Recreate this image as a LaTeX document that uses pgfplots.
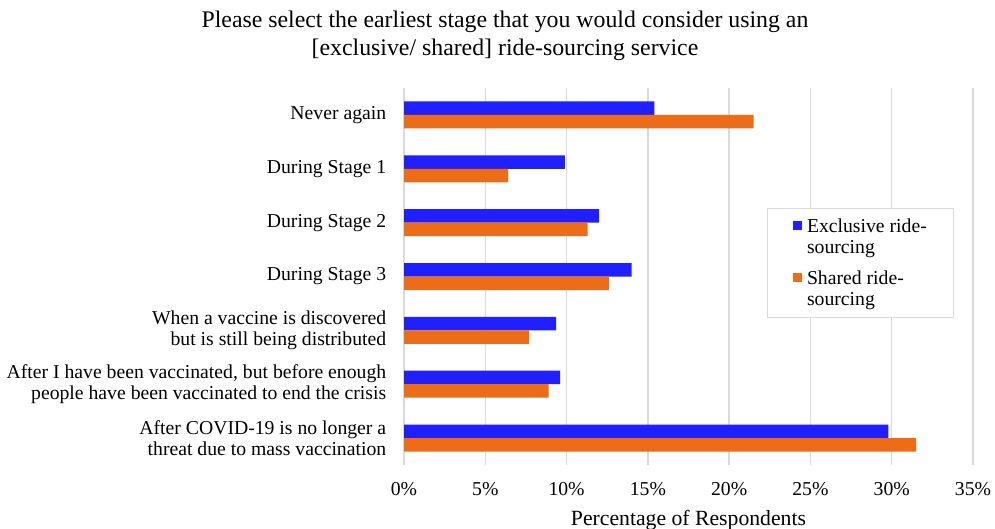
\documentclass[border=0pt]{standalone}
\usepackage{pgfplots}
\pgfplotsset{compat=1.18}
\usepackage{fontspec}
\setmainfont{Liberation Serif}
\definecolor{exclblue}{HTML}{1F1FFF}
\definecolor{sharedorange}{HTML}{EC6C17}
\definecolor{gridgray}{HTML}{D9D9D9}
\newcommand{\smallfont}{\fontsize{19.7}{21.8}\selectfont}
\newcommand{\labelfont}{\fontsize{21.7}{26}\selectfont}
\newcommand{\titlefont}{\fontsize{23.8}{28}\selectfont}
\begin{document}
\begin{tikzpicture}
\useasboundingbox (0,0) rectangle (995pt,528pt);
\node[anchor=base, font=\titlefont] at (505pt,500pt) {Please select the earliest stage that you would consider using an};
\node[anchor=base, font=\titlefont] at (505pt,472pt) {[exclusive/ shared] ride-sourcing service};
\begin{axis}[
    at={(404pt,63pt)}, anchor=south west,
    scale only axis,
    width=569pt, height=377pt,
    xbar, bar width=13.5pt,
    xmin=0, xmax=35,
    ymin=-0.5, ymax=6.5,
    xtick={0,5,...,35},
    xticklabel={\pgfmathprintnumber{\tick}\%},
    /pgf/number format/assume math mode=true,
    ytick={0,...,6},
    yticklabels={
      {After COVID-19 is no longer a\\threat due to mass vaccination},
      {After I have been vaccinated, but before enough\\people have been vaccinated to end the crisis},
      {When a vaccine is discovered\\but is still being distributed},
      {During Stage 3},
      {During Stage 2},
      {During Stage 1},
      {Never again}},
    yticklabel style={align=right, font=\smallfont, xshift=-10pt},
    xticklabel style={font=\smallfont, yshift=-14pt},
    xmajorgrids, grid style={gridgray, line width=1.4pt},
    axis line style={draw=none},
    tick style={draw=none},
    xlabel={Percentage of Respondents},
    xlabel style={font=\labelfont, at={(axis description cs:0.5,0)}, anchor=base, yshift=-60pt},
    legend style={at={(rel axis cs:0.638,0.682)}, anchor=north west,
      draw=gridgray, line width=1pt, font=\smallfont,
      inner xsep=25pt, inner ysep=8pt, row sep=11pt, column sep=3pt,
      cells={anchor=west, align=left}},
    legend image code/.code={\fill[#1, draw=none] (0pt,7pt) rectangle (9.5pt,16pt);},
  ]
  \addplot[fill=exclblue, draw=none, bar shift=6.75pt] coordinates {
    (29.8,0) (9.6,1) (9.35,2) (14.0,3) (12.0,4) (9.9,5) (15.4,6)};
  \addplot[fill=sharedorange, draw=none, bar shift=-6.75pt] coordinates {
    (31.5,0) (8.9,1) (7.7,2) (12.6,3) (11.3,4) (6.4,5) (21.5,6)};
  \legend{{Exclusive ride-\\sourcing},{Shared ride-\\sourcing}}
\end{axis}
\end{tikzpicture}
\end{document}
